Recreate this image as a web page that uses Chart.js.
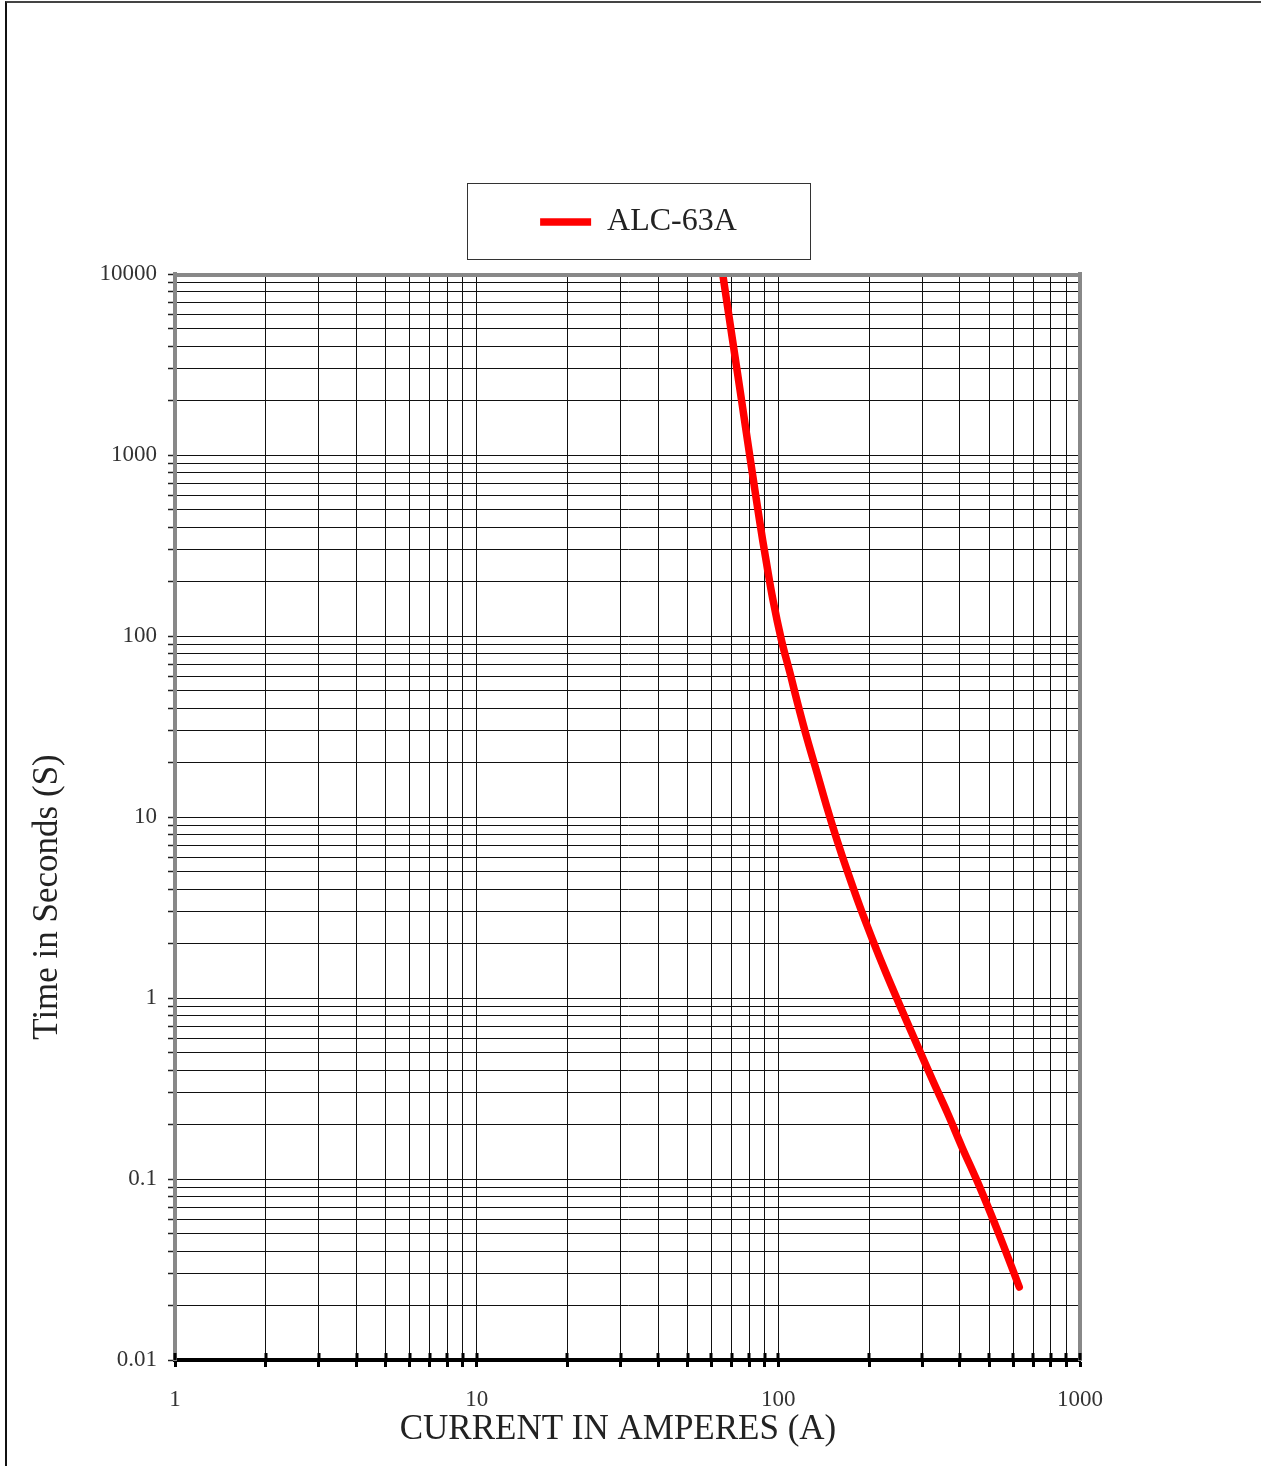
<!DOCTYPE html>
<html>
<head>
<meta charset="utf-8">
<script src="https://cdn.jsdelivr.net/npm/chart.js@4.4.1/dist/chart.umd.min.js"></script>
<style>
html,body{margin:0;padding:0;background:#fff;}
#wrap{position:relative;width:1261px;height:1466px;overflow:hidden;}
#frame{position:absolute;left:5px;top:1px;width:1256px;height:1465px;border-top:2px solid #444;border-left:2px solid #111;box-sizing:border-box;pointer-events:none;}
canvas{position:absolute;left:0;top:0;}
</style>
</head>
<body>
<div id="wrap"><canvas id="chart" width="1261" height="1466"></canvas><div id="frame"></div></div>
<script>
// ---- data ----
const seriesName = "ALC-63A";
const currentA = [65.4, 70.5, 75.5, 80.8, 86.6, 91.0, 96.0, 102.4, 109.3, 116.7, 124.9, 134.4, 144.8, 156.5, 170.2, 186.6, 205.5, 227.5, 254.1, 290.4, 324.4, 363.7, 406.3, 454.6, 505, 559.9, 629];
const timeS = [10000, 4320, 2013, 938, 437, 263, 158, 95, 62.5, 40.5, 26.6, 17.5, 11.36, 7.46, 4.9, 3.18, 2.09, 1.374, 0.892, 0.536, 0.352, 0.2315, 0.150, 0.0987, 0.0649, 0.0421, 0.0253];

const xDecades = [1, 10, 100, 1000];
const yDecades = [0.01, 0.1, 1, 10, 100, 1000, 10000];
const minorSteps = [1, 2, 3, 4, 5, 6, 7, 8, 9];

const xTitle = "CURRENT IN AMPERES (A)";
const yTitle = "Time in Seconds (S)";

const FONT = "'Liberation Serif', 'DejaVu Serif', serif";

// ---- helpers ----
function logTicks(decades){
  const out = [];
  for(let i = 0; i < decades.length - 1; i++){
    minorSteps.forEach(s => out.push(+(decades[i] * s).toPrecision(6)));
  }
  out.push(decades[decades.length - 1]);
  return out;
}
function isDecade(v){
  const l = Math.log10(v);
  return Math.abs(l - Math.round(l)) < 1e-9;
}

const xTickValues = logTicks(xDecades);
const yTickValues = logTicks(yDecades);

const points = currentA.map((x, i) => ({x: x, y: timeS[i]}));

// legend band: space between top padding and plot area
const legendFit = {
  id: "legendFit",
  beforeInit(chart){
    const fit = chart.legend.fit;
    chart.legend.fit = function(){
      fit.call(this);
      this.height = 78;
    };
  }
};

// frame pieces, legend box, axis titles
const decorations = {
  id: "decorations",
  afterDraw(chart){
    const ctx = chart.ctx;
    const a = chart.chartArea;
    const xs = chart.scales.x;
    ctx.save();

    // top border of plot
    ctx.strokeStyle = "#888";
    ctx.lineWidth = 4;
    ctx.beginPath();
    ctx.moveTo(a.left - 1, a.top + 1);
    ctx.lineTo(a.right + 2, a.top + 1);
    ctx.stroke();

    // x ticks poke up into the plot as well
    ctx.strokeStyle = "#000";
    ctx.lineWidth = 3;
    ctx.beginPath();
    xTickValues.forEach(v => {
      const px = Math.round(xs.getPixelForValue(v));
      ctx.moveTo(px, a.bottom - 7);
      ctx.lineTo(px, a.bottom);
    });
    ctx.stroke();

    // box around legend
    const hb = chart.legend.legendHitBoxes[0];
    if(hb){
      const cx = hb.left + hb.width / 2;
      const cy = hb.top + hb.height / 2;
      ctx.strokeStyle = "#333";
      ctx.lineWidth = 1;
      ctx.strokeRect(Math.round(cx - 172) + 0.5, Math.round(cy - 39) + 0.5, 343, 76);
    }

    // axis titles
    ctx.fillStyle = "#222";
    ctx.font = "35px " + FONT;
    ctx.textAlign = "center";
    ctx.textBaseline = "middle";
    ctx.fillText(xTitle, 618, 1430);
    ctx.translate(48, 897);
    ctx.rotate(-Math.PI / 2);
    ctx.fillText(yTitle, 0, 0);
    ctx.restore();
  }
};

new Chart(document.getElementById("chart"), {
  type: "line",
  data: {
    datasets: [{
      label: seriesName,
      data: points,
      borderColor: "#ff0000",
      backgroundColor: "#ff0000",
      borderWidth: 7.5,
      borderCapStyle: "round",
      borderJoinStyle: "round",
      pointRadius: 0,
      tension: 0.4,
      fill: false
    }]
  },
  options: {
    responsive: false,
    devicePixelRatio: 1,
    animation: false,
    layout: { padding: { top: 196, left: 16, right: 0, bottom: 0 } },
    plugins: {
      legend: {
        display: true,
        position: "top",
        labels: {
          usePointStyle: true,
          pointStyle: "line",
          pointStyleWidth: 51,
          padding: 10,
          color: "#222",
          font: { family: FONT, size: 32 }
        }
      },
      tooltip: { enabled: false }
    },
    scales: {
      x: {
        type: "logarithmic",
        position: "bottom",
        min: 1,
        max: 1000,
        afterBuildTicks: axis => { axis.ticks = xTickValues.map(v => ({value: v, major: isDecade(v)})); },
        afterFit: axis => { axis.height = 106; },
        ticks: {
          autoSkip: false,
          maxRotation: 0,
          minRotation: 0,
          padding: 19,
          color: "#333",
          font: { family: FONT, size: 23 },
          callback: v => isDecade(v) ? String(v) : ""
        },
        grid: {
          color: "#111",
          lineWidth: 1,
          tickLength: 7,
          tickWidth: 3,
          tickColor: "#000"
        },
        border: { color: "#000", width: 4 },
        title: { display: false }
      },
      y: {
        type: "logarithmic",
        position: "left",
        min: 0.01,
        max: 10000,
        afterBuildTicks: axis => { axis.ticks = yTickValues.map(v => ({value: v, major: isDecade(v)})); },
        afterFit: axis => { axis.width = 159; },
        ticks: {
          autoSkip: false,
          padding: 11,
          color: "#333",
          font: { family: FONT, size: 23 },
          callback: v => isDecade(v) ? String(v) : ""
        },
        grid: {
          color: "#111",
          lineWidth: 1,
          tickLength: 7,
          tickWidth: 1.5,
          tickColor: "#222"
        },
        border: { color: "#888", width: 4 }
      },
      y2: {
        type: "linear",
        position: "right",
        min: 0,
        max: 1,
        afterFit: axis => { axis.width = 181; },
        ticks: { display: false },
        grid: { display: true, drawOnChartArea: false, drawTicks: false },
        border: { color: "#888", width: 4 }
      }
    }
  },
  plugins: [legendFit, decorations]
});
</script>
</body>
</html>
